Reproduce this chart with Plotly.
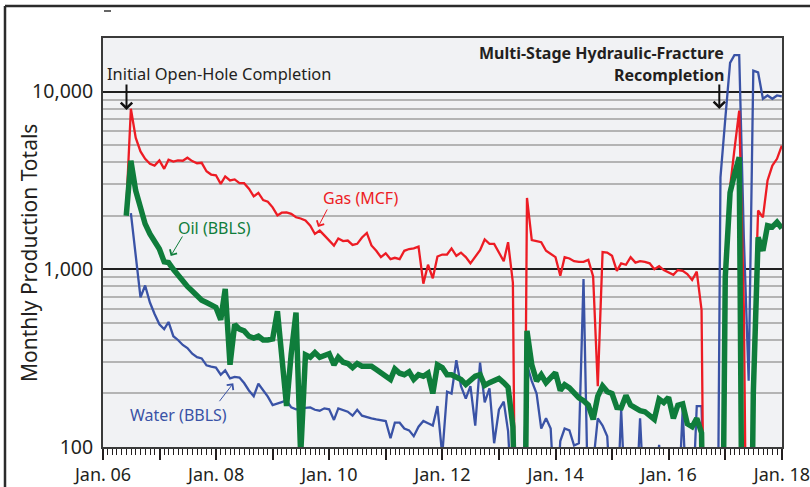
import pandas as pd
import plotly.graph_objects as go

# ---------------- data (monthly, May 2006 .. Dec 2017) ----------------
start_month = "2006-05"
end_month = "2017-12"

gas_mcf = [
    2200, 8000, 5500, 4600, 4180, 3920, 3830, 4090,            # May06-Dec06
    3670, 4130, 4030, 4100, 4080, 4240, 4060, 3950, 3970, 3560, 3410, 3380,  # 2007
    3020, 3330, 3160, 3200, 3050, 3050, 2840, 2570, 2690, 2450, 2400, 2230,  # 2008
    2010, 2080, 2090, 2050, 1960, 1930, 1880, 1760, 1580, 1650, 1550, 1450,  # 2009
    1360, 1490, 1440, 1450, 1370, 1390, 1510, 1600, 1360, 1270, 1170, 1230,  # 2010
    1140, 1160, 1140, 1270, 1300, 1310, 1340, 830, 1060, 890, 1180, 1210,    # 2011
    1210, 1310, 1190, 1240, 1170, 1080, 1170, 1280, 1470, 1390, 1390, 1240,  # 2012
    1110, 1420, 840, 1, 1, 2520, 1460, 1440, 1420, 1270, 1220, 1170,         # 2013
    920, 1170, 1150, 1110, 1100, 1100, 1130, 910, 220, 1250, 1240, 1190,     # 2014
    980, 1080, 1060, 1170, 1090, 1110, 1100, 1080, 1000, 1040, 990, 960,     # 2015
    930, 990, 980, 940, 870, 970, 590, 1, 1, 1, 1, 1000,                     # 2016
    2900, 4700, 7800, 600, 1, 300, 2140, 1960, 3160, 3830, 4180, 4960,       # 2017
]

oil_bbls = [
    2000, 4080, 2770, 2230, 1800, 1580, 1420, 1300,
    1100, 1090, 1000, 920, 850, 800, 755, 715, 670, 650, 635, 610,
    520, 775, 290, 490, 460, 450, 420, 410, 420, 400, 400, 405,
    580, 335, 170, 335, 570, 90, 330, 320, 340, 320, 330, 335,
    290, 320, 300, 295, 280, 295, 285, 283, 285, 273, 262, 255,
    240, 275, 260, 255, 265, 240, 255, 250, 260, 200, 290, 280,
    255, 255, 245, 240, 225, 240, 250, 255, 222, 230, 237, 243,
    230, 217, 130, 1, 1, 450, 290, 235, 255, 230, 245, 262,
    208, 224, 215, 200, 189, 182, 172, 143, 193, 220, 205, 200,
    167, 166, 195, 172, 166, 160, 158, 150, 143, 186, 178, 190,
    145, 172, 175, 135, 130, 145, 120, 1, 1, 1, 1, 900,
    2700, 3400, 4270, 1, 1, 200, 1510, 1270, 1760, 1730, 1840, 1700,
]

water_bbls = [
    None, 2070, 1200, 695, 810, 650, 560, 490,
    460, 505, 420, 400, 375, 360, 335, 320, 315, 288, 283, 280,
    255, 270, 243, 248, 246, 229, 208, 193, 227, 208, 192, 172,
    175, 179, 183, 167, 163, 165, 166, 167, 162, 160, 165, 163,
    142, 165, 162, 158, 150, 162, 150, 147, 145, 143, 141, 140,
    112, 137, 137, 127, 124, 115, 130, 140, 136, 132, 170, 90,
    205, 200, 308, 220, 187, 220, 132, 298, 178, 214, 105, 162,
    180, 123, 40, 40, 40, 290, 235, 200, 127, 145, 127, 40,
    108, 127, 124, 102, 105, 880, 40, 80, 145, 132, 115, 40,
    40, 162, 40, 40, 40, 145, 40, 40, 40, 103, 40, 40,
    40, 40, 163, 40, 40, 170, 170, 1, 1, 1, 3290, 7000,
    14500, 16000, 16000, 1500, 236, 13100, 12800, 9100, 9500, 9100, 9500, 9400,
]

year_ticks = list(range(2006, 2019))
year_labels = [f"Jan. {y % 100:02d}" if (y - 2006) % 2 == 0 else "" for y in year_ticks]
y_tick_values = [100, 1000, 10000]
y_tick_labels = ["100", "1,000", "10,000"]
y_minor_values = [m * 10 ** e for e in (2, 3) for m in range(2, 10)] + [20000]

months = pd.period_range(start_month, end_month, freq="M").to_timestamp(how="end").normalize()
dates = [d.strftime("%Y-%m-%d") for d in months]

# ---------------- figure ----------------
W, H = 810, 487
L, R, T, B = 103, 28, 38, 40
PW, PH = W - L - R, H - T - B
FONT = "Noto Sans"
INK = "#231f20"
RED, GREEN, BLUE = "#ed1c24", "#0f7d3b", "#3a53a6"


def px(x):
    return (x - L) / PW


def py(y):
    return (H - B - y) / PH


fig = go.Figure()
fig.add_trace(go.Scatter(x=dates, y=water_bbls, mode="lines", name="Water (BBLS)",
                         line=dict(color=BLUE, width=2.3)))
fig.add_trace(go.Scatter(x=dates, y=gas_mcf, mode="lines", name="Gas (MCF)",
                         line=dict(color=RED, width=2.3)))
fig.add_trace(go.Scatter(x=dates, y=oil_bbls, mode="lines", name="Oil (BBLS)",
                         line=dict(color=GREEN, width=5.5)))

annotations = [
    dict(text="Monthly Production Totals", x=px(29), y=py(253), xref="paper", yref="paper",
         textangle=-90, showarrow=False, xanchor="center", yanchor="middle",
         font=dict(size=21, color=INK, family=FONT)),
    dict(text="Initial Open-Hole Completion", x=px(105), y=py(74), xref="paper", yref="paper",
         showarrow=False, xanchor="left", yanchor="middle", font=dict(size=16.4, color=INK, family=FONT)),
    dict(text="", x=px(126.5), y=py(110), xref="paper", yref="paper", showarrow=True,
         ax=0, ay=-27, arrowhead=4, arrowsize=1.1, arrowwidth=2, arrowcolor="#111"),
    dict(text="<b>Multi-Stage Hydraulic-Fracture</b>", x=px(726), y=py(53), xref="paper", yref="paper",
         showarrow=False, xanchor="right", yanchor="middle", font=dict(size=16, color=INK, family=FONT)),
    dict(text="<b>Recompletion</b>", x=px(726), y=py(75), xref="paper", yref="paper",
         showarrow=False, xanchor="right", yanchor="middle", font=dict(size=16, color=INK, family=FONT)),
    dict(text="", x=px(719.3), y=py(109), xref="paper", yref="paper", showarrow=True,
         ax=0, ay=-26, arrowhead=4, arrowsize=1.1, arrowwidth=2, arrowcolor="#111"),
    dict(text="Gas (MCF)", x=px(360), y=py(198), xref="paper", yref="paper", showarrow=False,
         xanchor="center", yanchor="middle", font=dict(size=16, color=RED, family=FONT)),
    dict(text="", x=px(318), y=py(227), xref="paper", yref="paper", showarrow=True,
         ax=10, ay=-19, arrowhead=4, arrowsize=1.6, arrowwidth=1, arrowcolor=RED),
    dict(text="Oil (BBLS)", x=px(214), y=py(228), xref="paper", yref="paper", showarrow=False,
         xanchor="center", yanchor="middle", font=dict(size=16, color=GREEN, family=FONT)),
    dict(text="", x=px(170.7), y=py(256), xref="paper", yref="paper", showarrow=True,
         ax=12.6, ay=-21, arrowhead=4, arrowsize=1.6, arrowwidth=1, arrowcolor=GREEN),
    dict(text="Water (BBLS)", x=px(178), y=py(415), xref="paper", yref="paper", showarrow=False,
         xanchor="center", yanchor="middle", font=dict(size=16, color=BLUE, family=FONT)),
    dict(text="", x=px(233.3), y=py(383.3), xref="paper", yref="paper", showarrow=True,
         ax=-15, ay=19.4, arrowhead=4, arrowsize=1.6, arrowwidth=1, arrowcolor=BLUE),
]

shapes = [
    # outer frame (left and top edges; right/bottom fall outside the picture)
    dict(type="line", xref="paper", yref="paper", x0=px(5), x1=px(5), y0=py(487), y1=py(6),
         line=dict(color="#2b2b2b", width=2.5), layer="above"),
    dict(type="line", xref="paper", yref="paper", x0=px(5), x1=px(810), y0=py(6), y1=py(6),
         line=dict(color="#2b2b2b", width=2.5), layer="above"),
    dict(type="line", xref="paper", yref="paper", x0=px(104), x1=px(111), y0=py(11), y1=py(11),
         line=dict(color="#333", width=1.5)),
]

fig.update_layout(
    width=W, height=H, autosize=False,
    margin=dict(l=L, r=R, t=T, b=B, pad=0),
    paper_bgcolor="white", plot_bgcolor="#f1f2f4",
    showlegend=False,
    font=dict(family=FONT, color=INK),
    annotations=annotations, shapes=shapes,
    xaxis=dict(
        type="date", range=["2006-01-01", "2018-01-01 06:00"], automargin=False,
        tickmode="array", tickvals=[f"{y}-01-01" for y in year_ticks], ticktext=year_labels,
        ticks="outside", ticklen=11, tickwidth=2, tickcolor=INK,
        minor=dict(ticks="outside", ticklen=6, tickwidth=1, tickcolor=INK,
                   dtick="M1", tick0="2006-01-01", showgrid=False),
        showgrid=False, zeroline=False,
        showline=True, linecolor="#3a3a3a", linewidth=2, mirror=True,
        tickfont=dict(size=18, color=INK, family=FONT), ticklabelstandoff=-1,
        ticklabeloverflow="allow",
    ),
    yaxis=dict(
        type="log", range=[2, 4.301], automargin=False,
        tickmode="array", tickvals=y_tick_values, ticktext=y_tick_labels,
        showgrid=True, gridcolor="#1f1f1f", gridwidth=1.5,
        minor=dict(tickmode="array", tickvals=y_minor_values, showgrid=True,
                   gridcolor="#b4b4b4", gridwidth=1.5, ticks=""),
        ticks="", zeroline=False,
        showline=True, linecolor="#3a3a3a", linewidth=2, mirror=True,
        tickfont=dict(size=19.5, color=INK, family=FONT), ticklabelstandoff=4,
    ),
)

fig.write_html("out.html", config={"displayModeBar": False},
               post_script="document.body.style.margin='0';")
